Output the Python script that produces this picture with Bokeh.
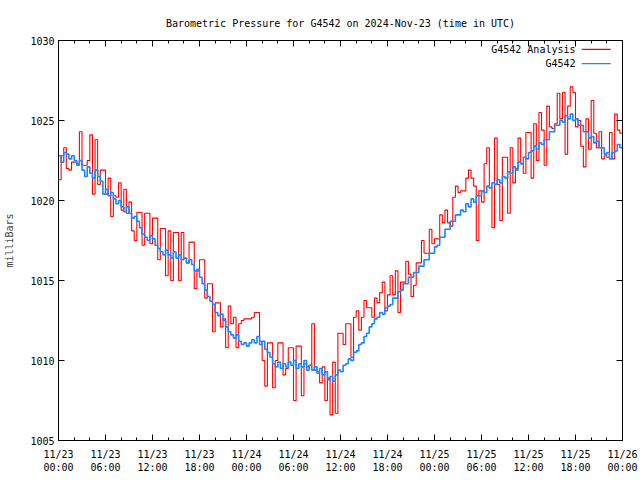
from bokeh.plotting import figure
from bokeh.models import FixedTicker, LinearAxis, Label, Range1d, Title
from bokeh.embed import file_html
from bokeh.resources import INLINE

# hours since 2024-11-23 00:00 UTC, sampled every 20 minutes
n_samples = 217
hours = [i / 3 for i in range(n_samples)]

analysis = [
    1021.3, 1022.8, 1023.3,
    1022.0, 1021.9, 1022.4,
    1022.4, 1022.3, 1024.3,
    1022.2, 1022.2, 1022.5,
    1024.1, 1020.4, 1023.8,
    1021.0, 1021.9, 1021.9,
    1020.4, 1021.4, 1019.0,
    1020.3, 1020.2, 1021.1,
    1019.4, 1020.7, 1019.2,
    1019.9, 1018.1, 1017.5,
    1019.25, 1019.25, 1017.2,
    1019.2, 1019.2, 1017.3,
    1018.9, 1018.9, 1016.3,
    1018.25, 1018.25, 1015.3,
    1018.1, 1015.0, 1018.0,
    1018.0, 1015.0, 1018.0,
    1016.4, 1016.1, 1017.4,
    1017.4, 1014.5, 1015.6,
    1016.3, 1016.3, 1013.9,
    1014.8, 1014.8, 1011.8,
    1013.6, 1013.6, 1012.1,
    1012.6, 1010.8, 1013.4,
    1012.3, 1012.7, 1010.8,
    1012.3, 1012.5, 1012.6,
    1012.6, 1012.6, 1012.7,
    1013.0, 1013.0, 1011.2,
    1010.0, 1008.4, 1011.1,
    1011.1, 1008.3, 1010.0,
    1011.1, 1011.1, 1009.1,
    1009.5, 1010.8, 1010.8,
    1007.5, 1010.9, 1010.9,
    1007.8, 1009.8, 1009.6,
    1009.7, 1012.3, 1009.4,
    1009.3, 1008.6, 1009.6,
    1007.5, 1008.9, 1006.6,
    1009.9, 1006.7, 1011.7,
    1011.7, 1011.0, 1012.3,
    1012.3, 1010.2, 1012.7,
    1013.1, 1011.9, 1012.7,
    1013.75, 1013.3, 1013.3,
    1012.7, 1013.9, 1013.6,
    1014.25, 1014.9, 1013.1,
    1014.1, 1015.3, 1014.1,
    1015.6, 1013.0, 1014.9,
    1014.9, 1016.2, 1015.4,
    1014.0, 1014.7, 1016.1,
    1016.1, 1017.5, 1016.7,
    1016.7, 1018.2, 1017.3,
    1017.6, 1017.6, 1019.1,
    1018.6, 1019.4, 1018.6,
    1018.4, 1020.2, 1020.9,
    1020.5, 1020.6, 1020.6,
    1021.4, 1021.9, 1021.4,
    1020.9, 1017.5, 1020.6,
    1019.9, 1022.3, 1023.3,
    1020.8, 1018.3, 1023.9,
    1021.0, 1018.75, 1022.7,
    1022.7, 1019.2, 1023.3,
    1021.1, 1022.0, 1023.9,
    1022.3, 1021.7, 1024.25,
    1024.25, 1021.4, 1024.8,
    1022.5, 1025.5, 1024.4,
    1022.2, 1025.9, 1024.6,
    1024.5, 1024.8, 1026.7,
    1025.1, 1026.75, 1022.9,
    1025.9, 1027.1, 1026.75,
    1024.6, 1025.0, 1023.4,
    1022.1, 1025.1, 1023.2,
    1026.25, 1024.2, 1023.3,
    1024.3, 1022.6, 1022.8,
    1022.7, 1024.25, 1022.6,
    1025.4, 1024.4, 1024.2,
    1024.2,
]

station = [
    1022.8, 1022.4, 1023.0,
    1022.9, 1022.6, 1022.8,
    1022.5, 1022.2, 1022.5,
    1021.9, 1021.5, 1022.1,
    1021.7, 1021.4, 1021.9,
    1021.5, 1021.2, 1020.4,
    1020.7, 1020.3, 1020.5,
    1020.1, 1019.8, 1020.0,
    1019.6, 1019.3, 1019.6,
    1019.2, 1018.9, 1019.0,
    1018.7, 1018.3, 1017.9,
    1017.7, 1017.5, 1017.8,
    1017.6, 1017.2, 1017.0,
    1016.8, 1016.6, 1016.9,
    1016.6, 1016.4, 1016.8,
    1016.4, 1016.6, 1016.3,
    1016.4, 1016.1, 1016.3,
    1016.0, 1015.6, 1015.7,
    1015.2, 1014.8, 1014.4,
    1014.0, 1013.7, 1013.5,
    1013.0, 1012.8, 1012.9,
    1012.5, 1012.1, 1011.8,
    1011.6, 1011.4, 1011.6,
    1011.2, 1011.0, 1011.1,
    1010.9, 1011.1, 1011.3,
    1011.1, 1011.5, 1011.0,
    1011.2, 1010.7, 1010.5,
    1010.2, 1009.8, 1009.6,
    1009.9, 1009.5, 1009.8,
    1009.6, 1009.9, 1009.7,
    1010.0, 1009.5, 1009.8,
    1009.6, 1010.0, 1009.4,
    1009.7, 1009.4, 1009.6,
    1009.2, 1009.5, 1009.1,
    1009.3, 1008.8, 1009.0,
    1008.7, 1009.1, 1009.4,
    1009.3, 1009.7, 1009.8,
    1010.1, 1010.0, 1010.5,
    1010.6, 1011.0, 1011.1,
    1011.5, 1011.7, 1012.1,
    1012.3, 1012.6, 1012.7,
    1013.0, 1012.9, 1013.3,
    1013.4, 1013.5, 1013.9,
    1013.9, 1014.3, 1014.4,
    1014.8, 1014.8, 1015.2,
    1015.2, 1015.5, 1015.5,
    1015.9, 1015.9, 1016.3,
    1016.3, 1016.7, 1016.7,
    1017.1, 1017.2, 1017.7,
    1017.7, 1018.2, 1018.2,
    1018.7, 1018.7, 1019.1,
    1019.1, 1019.4, 1019.3,
    1019.8, 1019.6, 1020.1,
    1019.9, 1020.3, 1020.3,
    1020.6, 1020.5, 1020.9,
    1020.8, 1021.1, 1021.0,
    1021.3, 1021.1, 1021.5,
    1021.4, 1021.8, 1021.7,
    1022.1, 1021.9, 1022.4,
    1022.3, 1022.7, 1022.6,
    1023.0, 1023.1, 1023.4,
    1023.2, 1023.6, 1023.5,
    1023.8, 1023.8, 1024.3,
    1024.3, 1024.7, 1024.7,
    1025.0, 1024.9, 1025.3,
    1025.1, 1025.4, 1025.0,
    1025.1, 1024.7, 1024.7,
    1024.3, 1024.3, 1023.9,
    1024.0, 1023.6, 1023.7,
    1023.3, 1023.3, 1022.9,
    1023.0, 1022.6, 1023.0,
    1023.1, 1023.5, 1023.3,
    1023.6,
]

x_ticks = [0, 6, 12, 18, 24, 30, 36, 42, 48, 54, 60, 66, 72]
x_tick_labels = ["11/23\n00:00", "11/23\n06:00", "11/23\n12:00", "11/23\n18:00",
                 "11/24\n00:00", "11/24\n06:00", "11/24\n12:00", "11/24\n18:00",
                 "11/25\n00:00", "11/25\n06:00", "11/25\n12:00", "11/25\n18:00",
                 "11/26\n00:00"]
x_minor = list(range(0, 73, 2))
y_ticks = [1005, 1010, 1015, 1020, 1025, 1030]

series_names = ["G4542 Analysis", "G4542"]
series_colors = ["#ff0000", "#1a86ff"]

FONT = "DejaVu Sans Mono"
FS = "10px"

title = Title(text="Barometric Pressure for G4542 on 2024-Nov-23 (time in UTC)",
              align="center", text_font=FONT, text_font_size=FS,
              text_font_style="normal", text_color="black", standoff=23)

p = figure(width=640, height=480, output_backend="svg", toolbar_location=None,
           x_range=Range1d(0, 72), y_range=Range1d(1005, 1030),
           min_border_left=58, min_border_right=18, min_border_top=40,
           min_border_bottom=40, title=title)
p.xgrid.visible = False
p.ygrid.visible = False
p.outline_line_color = "black"
p.outline_line_width = 1
p.background_fill_color = "white"

p.step(hours, analysis, mode="after", line_color=series_colors[0], line_width=1.1)
p.step(hours, station, mode="after", line_color=series_colors[1], line_width=1.6)


def style_axis(ax, show_labels):
    ax.axis_line_color = "black"
    ax.major_tick_line_color = "black"
    ax.minor_tick_line_color = "black"
    ax.major_tick_in = 6
    ax.major_tick_out = 0
    ax.minor_tick_in = 3
    ax.minor_tick_out = 0
    ax.major_label_text_font = FONT
    if show_labels:
        ax.major_label_text_font_size = FS
        ax.major_label_text_color = "black"
    else:
        ax.major_label_text_font_size = "1px"
        ax.major_label_text_color = None
        ax.major_label_standoff = 0


xt = FixedTicker(ticks=x_ticks, minor_ticks=x_minor)
yt = FixedTicker(ticks=y_ticks, minor_ticks=[])

xa = p.xaxis[0]
xa.ticker = xt
xa.major_label_overrides = {t: l for t, l in zip(x_ticks, x_tick_labels)}
style_axis(xa, True)
xa.major_label_standoff = 8

ya = p.yaxis[0]
ya.ticker = yt
style_axis(ya, True)
ya.major_label_standoff = 4
ya.axis_label = "milliBars"
ya.axis_label_text_font = FONT
ya.axis_label_text_font_size = FS
ya.axis_label_text_font_style = "normal"
ya.axis_label_standoff = 12

top = LinearAxis(ticker=FixedTicker(ticks=x_ticks, minor_ticks=x_minor))
style_axis(top, False)
p.add_layout(top, "above")
right = LinearAxis(ticker=FixedTicker(ticks=y_ticks, minor_ticks=[]))
style_axis(right, False)
p.add_layout(right, "right")

# gnuplot-style key: text right-aligned, sample line to its right
key_y = [1029.44, 1028.56]
for name, color, ky in zip(series_names, series_colors, key_y):
    p.add_layout(Label(x=66.0, y=ky, text=name, text_align="right",
                       text_baseline="middle", text_font=FONT,
                       text_font_size=FS, text_color="black"))
    p.segment(x0=[66.8], y0=[ky], x1=[70.5], y1=[ky], line_color=color,
              line_width=1.3)

open("out.html", "w").write(file_html(p, INLINE))
